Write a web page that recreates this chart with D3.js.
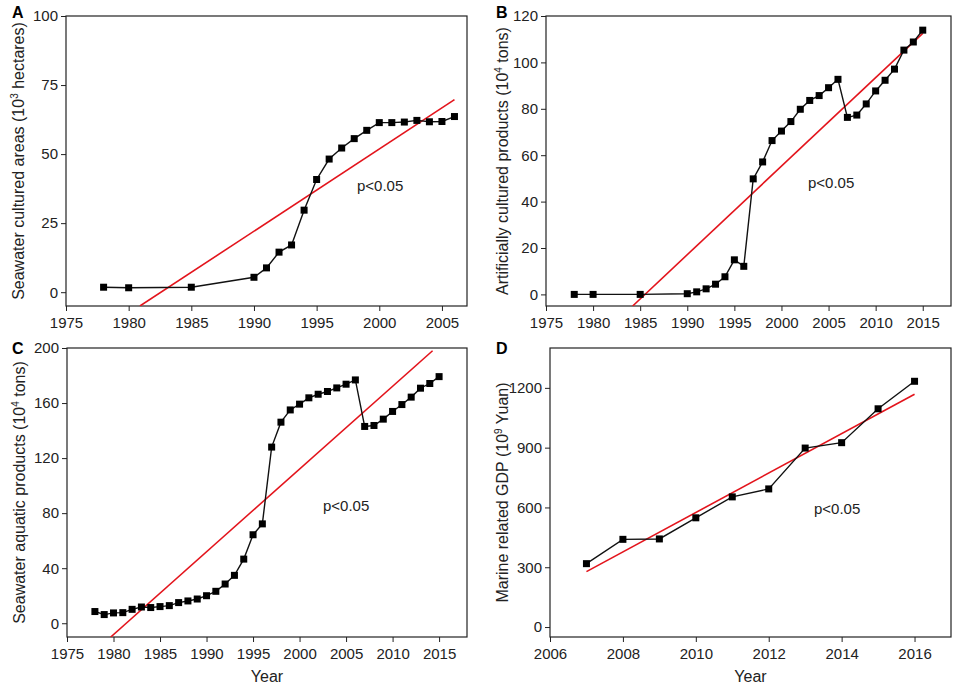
<!DOCTYPE html>
<html>
<head>
<meta charset="utf-8">
<script src="https://cdnjs.cloudflare.com/ajax/libs/d3/7.8.5/d3.min.js"></script>
<style>
body{margin:0;background:#fff;}
text{font-family:"Liberation Sans",Arial,sans-serif;fill:#222;}
</style>
</head>
<body>
<div id="chart"></div>
<script>
var w=957;
var h=688;

// A: seawater cultured areas
var yearsA=[1978,1980,1985,1990,1991,1992,1993,1994,1995,1996,1997,1998,1999,2000,2001,2002,2003,2004,2005,2006];
var valuesA=[1.8,1.6,1.8,5.4,8.8,14.5,17.1,29.7,40.8,48.2,52.2,55.6,58.6,61.4,61.4,61.6,62.2,61.7,61.8,63.6];
var fitA=[[1980.9,-5],[2006,69.7]];
var xTicksA=[1975,1980,1985,1990,1995,2000,2005];
var yTicksA=[0,25,50,75,100];

// B: artificially cultured products
var yearsB=[1978,1980,1985,1990,1991,1992,1993,1994,1995,1996,1997,1998,1999,2000,2001,2002,2003,2004,2005,2006,2007,2008,2009,2010,2011,2012,2013,2014,2015];
var valuesB=[0,0,0,0.3,1.1,2.4,4.4,7.6,14.9,12.1,49.8,57.1,66.3,70.4,74.5,79.8,83.6,85.7,89.1,92.7,76.3,77.3,82.1,87.7,92.3,97.1,105.3,108.8,113.9];
var fitB=[[1984.2,-5],[2015,112.5]];
var xTicksB=[1975,1980,1985,1990,1995,2000,2005,2010,2015];
var yTicksB=[0,20,40,60,80,100,120];

// C: seawater aquatic products
var yearsC=[1978,1979,1980,1981,1982,1983,1984,1985,1986,1987,1988,1989,1990,1991,1992,1993,1994,1995,1996,1997,1998,1999,2000,2001,2002,2003,2004,2005,2006,2007,2008,2009,2010,2011,2012,2013,2014,2015];
var valuesC=[8.5,6.3,7.5,7.7,10.1,11.8,11.4,12.1,12.8,15,16.2,17.6,20,23.2,28.5,34.8,46.6,64.3,72.2,128,146.1,155,159.2,163.8,166.4,168.4,171,173.7,176.8,143,143.7,148.3,153.9,158.9,164.3,170.8,174.2,179.2];
var fitC=[[1979.7,-10],[2014.3,198]];
var xTicksC=[1975,1980,1985,1990,1995,2000,2005,2010,2015];
var yTicksC=[0,40,80,120,160,200];

// D: marine related GDP
var yearsD=[2007,2008,2009,2010,2011,2012,2013,2014,2015,2016];
var valuesD=[318,440,442,548,653,693,898,925,1095,1233];
var fitD=[[2007,278],[2016,1168]];
var xTicksD=[2006,2008,2010,2012,2014,2016];
var yTicksD=[0,300,600,900,1200];

var svg=d3.select("#chart")
  .append("svg")
  .attr("width",w)
  .attr("height",h);

function panel(id,box,xDom,yDom,xs,ys,fit,xTicks,yTicks,title,sup,unit,titleOff,pPos,letterPos,showYear){
  var x=d3.scaleLinear().domain(xDom).range([box.l,box.r]);
  var y=d3.scaleLinear().domain(yDom).range([box.b,box.t]);
  var g=svg.append("g");

  g.append("clipPath").attr("id","clip"+id)
    .append("rect")
    .attr("x",box.l).attr("y",box.t)
    .attr("width",box.r-box.l).attr("height",box.b-box.t);

  g.append("g")
    .attr("transform","translate(0,"+box.b+")")
    .call(d3.axisBottom(x).tickValues(xTicks).tickFormat(d3.format("d")).tickSize(5).tickSizeOuter(0))
    .call(function(a){
      a.select(".domain").remove();
      a.selectAll("line").attr("stroke","#222");
      a.selectAll("text").attr("font-size",15).attr("dy","0.9em");
    });

  g.append("g")
    .attr("transform","translate("+box.l+",0)")
    .call(d3.axisLeft(y).tickValues(yTicks).tickFormat(d3.format("d")).tickSize(5).tickSizeOuter(0))
    .call(function(a){
      a.select(".domain").remove();
      a.selectAll("line").attr("stroke","#222");
      a.selectAll("text").attr("font-size",15);
    });

  g.append("rect")
    .attr("x",box.l).attr("y",box.t)
    .attr("width",box.r-box.l).attr("height",box.b-box.t)
    .attr("fill","none").attr("stroke","#222").attr("stroke-width",1.2);

  var line=d3.line()
    .x(function(d){return x(d[0]);})
    .y(function(d){return y(d[1]);});

  g.append("path")
    .datum(fit)
    .attr("clip-path","url(#clip"+id+")")
    .attr("d",line)
    .attr("fill","none")
    .attr("stroke","#e3141c")
    .attr("stroke-width",1.6);

  var pts=xs.map(function(d,i){return [d,ys[i]];});
  g.append("path")
    .datum(pts)
    .attr("d",line)
    .attr("fill","none")
    .attr("stroke","#111")
    .attr("stroke-width",1.4);

  g.selectAll(".pt")
    .data(pts)
    .enter()
    .append("rect")
    .attr("x",function(d){return x(d[0])-3.5;})
    .attr("y",function(d){return y(d[1])-3.5;})
    .attr("width",7)
    .attr("height",7)
    .attr("fill","#000");

  var t=g.append("text")
    .attr("transform","translate("+(box.l-titleOff)+","+((box.t+box.b)/2)+") rotate(-90)")
    .attr("text-anchor","middle")
    .attr("font-size",16);
  t.append("tspan").text(title+" (10");
  t.append("tspan").attr("font-size",10).attr("dy",-6).text(sup);
  t.append("tspan").attr("dy",6).text(" "+unit+")");

  g.append("text")
    .attr("x",pPos[0]).attr("y",pPos[1])
    .attr("font-size",15)
    .text("p<0.05");

  g.append("text")
    .attr("x",letterPos[0]).attr("y",letterPos[1])
    .attr("font-size",16)
    .attr("font-weight","bold")
    .style("fill","#000")
    .text(id);

  if(showYear){
    g.append("text")
      .attr("x",(box.l+box.r)/2).attr("y",682)
      .attr("text-anchor","middle")
      .attr("font-size",16)
      .text("Year");
  }
}

panel("A",{l:66,r:467,t:16,b:306},[1975,2007],[-5,100],yearsA,valuesA,fitA,xTicksA,yTicksA,
  "Seawater cultured areas","3","hectares",42,[357,191],[12,18],false);
panel("B",{l:546,r:951,t:16,b:306},[1975,2018],[-5,120],yearsB,valuesB,fitB,xTicksB,yTicksB,
  "Artificially cultured products","4","tons",38,[808,188],[496,18],false);
panel("C",{l:67,r:467,t:348,b:637},[1975,2018],[-10,200],yearsC,valuesC,fitC,xTicksC,yTicksC,
  "Seawater aquatic products","4","tons",42,[323,511],[12,354],true);
panel("D",{l:550,r:951,t:348,b:637},[2006,2017],[-50,1400],yearsD,valuesD,fitD,xTicksD,yTicksD,
  "Marine related GDP","9","Yuan",42,[814,514],[496,354],true);
</script>
</body>
</html>
